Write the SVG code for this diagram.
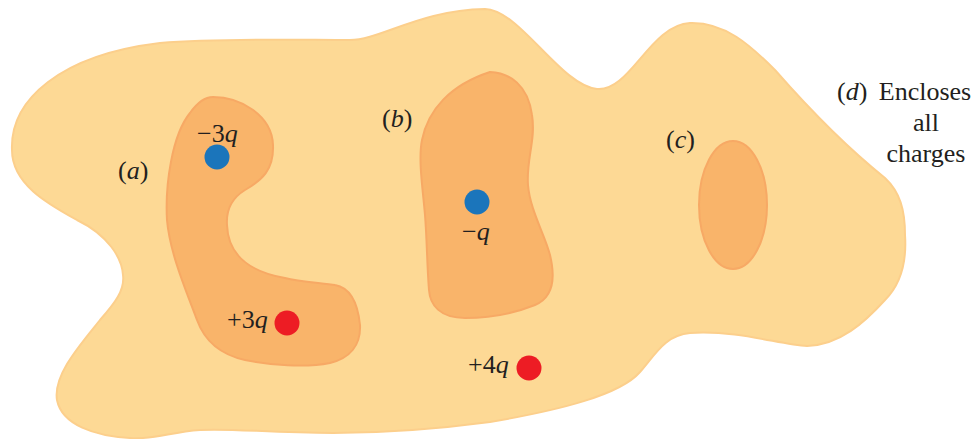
<svg xmlns="http://www.w3.org/2000/svg" width="976" height="439" viewBox="0 0 976 439">
<style>
.outer{fill:#FDD995;stroke:#FCCF8C;stroke-width:2}
.inner{fill:#F9B46A;stroke:#F7A965;stroke-width:2}
.neg{fill:#1B75BB}
.pos{fill:#ED1C24}
.t{font-family:'Liberation Serif','Times New Roman',Times,serif;font-size:26px;fill:#231F20}
.i{font-style:italic}
</style>
<g id="surface-d">
<path class="outer" d="M 12,150 C 10,100 60,55 160,43 C 220,38 300,40 350,40 C 380,40 420,10 485,9 C 520,10 560,85 597,89 C 630,92 650,25 690,23 C 725,22 750,45 775,70 C 810,110 850,150 885,178 C 900,192 905,210 905,235 C 907,265 900,285 885,300 C 865,322 840,345 807,346 C 780,345 740,330 690,333 C 665,335 655,355 640,372 C 620,395 560,410 490,422 C 430,430 380,433 333,433 C 270,433 230,428 200,430 C 170,432 155,440 130,438 C 95,436 62,425 57,400 C 53,375 80,345 100,320 C 115,303 125,290 123,275 C 122,258 108,235 77,220 C 50,205 12,185 12,150 Z"/>
</g>
<g id="surface-a">
<path class="inner" d="M 213,97 C 240,97 272,115 273,145 C 274,170 262,180 245,190 C 232,198 226,210 227,225 C 228,255 250,272 285,278 C 300,282 325,283 335,285 C 352,288 358,305 360,325 C 361,345 350,358 330,363 C 305,368 270,365 245,360 C 222,355 205,342 197,320 C 188,295 170,255 167,220 C 165,185 172,135 190,113 C 197,103 205,97 213,97 Z"/>
</g>
<g id="surface-b">
<path class="inner" d="M 490,72 C 510,73 528,85 532,115 C 536,140 526,160 528,185 C 530,210 545,235 550,255 C 556,280 552,298 535,305 C 515,313 490,318 465,318 C 440,318 430,305 429,290 C 427,265 427,240 425,215 C 423,190 418,160 422,140 C 428,110 450,85 490,72 Z"/>
</g>
<g id="surface-c">
<ellipse class="inner" cx="733" cy="205" rx="34" ry="64"/>
</g>
<g id="charge-m3q" class="t">
<circle class="neg" cx="217" cy="157" r="12.5"/>
<text x="197" y="142">−3<tspan class="i">q</tspan></text>
</g>
<g id="charge-mq" class="t">
<circle class="neg" cx="477" cy="202" r="12.5"/>
<text x="462" y="240">−<tspan class="i">q</tspan></text>
</g>
<g id="charge-p3q" class="t">
<circle class="pos" cx="287" cy="323" r="12.5"/>
<text x="227" y="328">+3<tspan class="i">q</tspan></text>
</g>
<g id="charge-p4q" class="t">
<circle class="pos" cx="529" cy="368" r="12.5"/>
<text x="468" y="373">+4<tspan class="i">q</tspan></text>
</g>
<g id="labels" class="t">
<text x="118" y="179">(<tspan class="i">a</tspan>)</text>
<text x="382" y="127">(<tspan class="i">b</tspan>)</text>
<text x="666" y="148">(<tspan class="i">c</tspan>)</text>
<text x="837" y="100">(<tspan class="i">d</tspan>)</text>
<text x="925" y="100" text-anchor="middle">Encloses</text>
<text x="926" y="131" text-anchor="middle">all</text>
<text x="926" y="162" text-anchor="middle">charges</text>
</g>
<g id="connectors"/>
</svg>
